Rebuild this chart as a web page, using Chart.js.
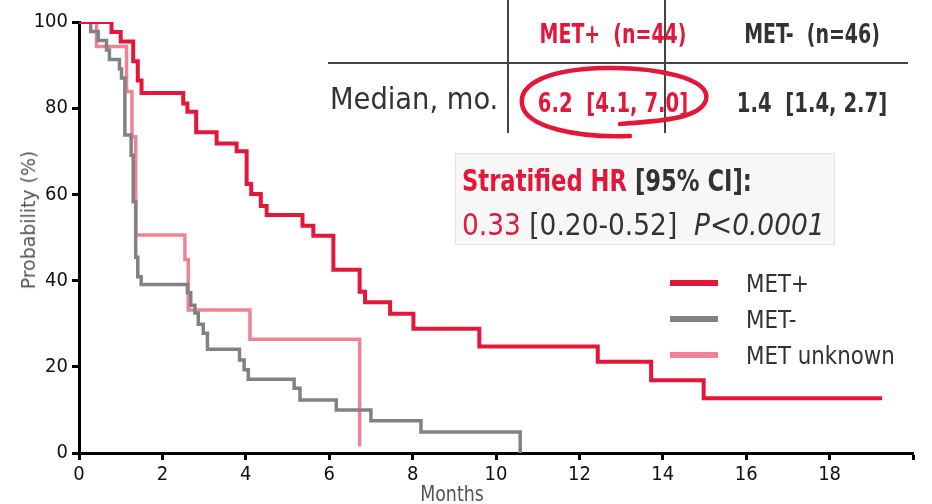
<!DOCTYPE html>
<html>
<head>
<meta charset="utf-8">
<script src="https://cdn.jsdelivr.net/npm/chart.js@4/dist/chart.umd.min.js"></script>
<style>
  html, body { margin: 0; padding: 0; background: #fff; }
  #wrap { position: relative; width: 932px; height: 504px; overflow: hidden; }
  #c { position: absolute; left: 0; top: 0; }
  .t { position: absolute; white-space: pre; line-height: 1; font-family: "Liberation Sans Narrow", "DejaVu Sans Condensed", "Roboto Condensed", "DejaVu Sans", sans-serif; }
  .ln { position: absolute; background: #444; }
</style>
</head>
<body>
<div id="wrap">
  <canvas id="c" width="932" height="504"></canvas>
</div>
<script>
// ---- data ----
const metPosMonths = [0, 0.78, 1.0, 1.3, 1.41, 1.5, 2.5, 2.6, 2.81, 3.3, 3.78, 4.02, 4.13, 4.36, 4.5, 5.36, 5.62, 6.1, 6.73, 6.86, 7.46, 8.02, 9.6, 12.44, 13.72, 14.98, 19.26];
const metPosProb   = [100, 97.7, 95.5, 90.9, 86.4, 83.5, 81.1, 79.2, 74.4, 71.8, 70.0, 62.4, 60.1, 57.3, 55.2, 52.7, 50.4, 42.5, 37.4, 35.0, 32.3, 28.8, 24.7, 21.2, 16.9, 12.7, 12.7];

const metNegMonths = [0, 0.28, 0.46, 0.66, 0.73, 0.97, 1.02, 1.1, 1.25, 1.3, 1.36, 1.41, 1.49, 2.6, 2.68, 2.78, 2.86, 2.98, 3.08, 3.85, 3.96, 4.06, 5.16, 5.3, 6.17, 7.0, 8.2, 10.58];
const metNegProb   = [100, 97.8, 95.7, 93.5, 91.3, 89.1, 87.0, 73.8, 69.1, 58.3, 45.4, 40.9, 39.1, 37.2, 34.3, 32.5, 29.9, 27.8, 24.1, 21.6, 19.3, 17.1, 15.0, 12.3, 10.0, 7.5, 4.9, 0];

const metUnkMonths = [0, 0.42, 1.14, 1.27, 1.36, 2.54, 2.62, 4.1, 6.73];
const metUnkProb   = [100, 94.3, 83.9, 73.4, 50.6, 44.9, 33.2, 26.4, 1.5];

const seriesNames = ["MET+", "MET-", "MET unknown"];
const xTicks = [0, 2, 4, 6, 8, 10, 12, 14, 16, 18];
const yTicks = [0, 20, 40, 60, 80, 100];

const tableHeaders = ["MET+  (n=44)", "MET-  (n=46)"];
const tableRowLabel = "Median, mo.";
const tableValues = ["6.2  [4.1, 7.0]", "1.4  [1.4, 2.7]"];

// ---- styling ----
const RED = "#E4173B", GRAY = "#828282", PINK = "#EF8393", DARK = "#333333";
const colors = [RED, GRAY, PINK];
const widths = [4, 3.5, 3.5];
const FONT = '"Liberation Sans Narrow", "DejaVu Sans Condensed", "Roboto Condensed", "DejaVu Sans", sans-serif';

const toPts = (xs, ys) => xs.map((x, i) => ({ x: x, y: ys[i] }));
const allData = [toPts(metPosMonths, metPosProb), toPts(metNegMonths, metNegProb), toPts(metUnkMonths, metUnkProb)];

new Chart(document.getElementById("c"), {
  type: "line",
  data: {
    datasets: seriesNames.map((n, i) => ({
      label: n,
      data: allData[i],
      borderColor: colors[i],
      borderWidth: widths[i],
      stepped: "before",
      pointRadius: 0,
      fill: false,
      borderCapStyle: "butt",
      borderJoinStyle: "miter"
    }))
  },
  options: {
    responsive: false,
    animation: false,
    events: [],
    layout: { padding: { top: 22, right: 19, left: 0, bottom: 0 } },
    plugins: { legend: { display: false }, tooltip: { enabled: false } },
    scales: {
      x: {
        type: "linear", min: 0, max: 20,
        afterBuildTicks: s => { s.ticks = xTicks.concat([20]).map(v => ({ value: v })); },
        ticks: { callback: v => (xTicks.includes(v) ? String(v) : ""), color: "#111", font: { family: FONT, size: 20 }, padding: 3, maxRotation: 0 },
        grid: { display: true, drawOnChartArea: false, drawTicks: true, tickLength: 7, tickWidth: 3, tickColor: "#000" },
        border: { display: true, color: "#000", width: 3 },
        afterFit: s => { s.height = 51; }
      },
      y: {
        min: 0, max: 100,
        afterBuildTicks: s => { s.ticks = yTicks.map(v => ({ value: v })); },
        ticks: { color: "#111", font: { family: FONT, size: 20 }, padding: 4 },
        grid: { display: true, drawOnChartArea: false, drawTicks: true, tickLength: 7, tickWidth: 3, tickColor: "#000" },
        border: { display: true, color: "#000", width: 3 },
        afterFit: s => { s.width = 79; }
      }
    }
  }
});

// ---- overlays (real text) ----
const wrap = document.getElementById("wrap");
function addText(txt, x, y, opts) {
  const d = document.createElement("div");
  d.className = "t";
  d.style.left = x + "px"; d.style.top = y + "px";
  d.style.fontSize = opts.size + "px";
  d.style.color = opts.color || DARK;
  if (opts.weight) d.style.fontWeight = opts.weight;
  const sx = opts.sx || 1;
  if (opts.rotate) {
    d.style.transform = "translate(-50%, -50%) rotate(-90deg) scaleX(" + sx + ")";
  } else if (opts.align === "left") {
    d.style.transformOrigin = "0 50%";
    d.style.transform = "translate(0, -50%) scaleX(" + sx + ")";
  } else {
    d.style.transform = "translate(-50%, -50%) scaleX(" + sx + ")";
  }
  if (opts.html) d.innerHTML = txt; else d.textContent = txt;
  wrap.appendChild(d);
  return d;
}
function addLine(x, y, w, h, c) {
  const d = document.createElement("div");
  d.className = "ln";
  d.style.left = x + "px"; d.style.top = y + "px"; d.style.width = w + "px"; d.style.height = h + "px";
  if (c) d.style.background = c;
  wrap.appendChild(d);
}

// axis titles
addText("Probability (%)", 28, 220, { size: 20, color: "#555", rotate: true, sx: 1.05 });
addText("Months", 452, 494, { size: 22, color: "#555", sx: 0.88 });

// table
addLine(507, 0, 2, 133);
addLine(664, 0, 2, 133);
addLine(328, 62, 580, 2);
addText(tableHeaders[0], 613, 33, { size: 27, color: RED, weight: 700, sx: 0.78 });
addText(tableHeaders[1], 812, 33, { size: 27, color: DARK, weight: 700, sx: 0.78 });
addText(tableRowLabel, 330, 98, { size: 31, color: DARK, align: "left", sx: 0.98 });
addText(tableValues[0], 613, 103, { size: 26, color: RED, weight: 700, sx: 0.84 });
addText(tableValues[1], 812, 103, { size: 26, color: DARK, weight: 700, sx: 0.84 });

// hand-drawn ellipse
const svgNS = "http://www.w3.org/2000/svg";
const svg = document.createElementNS(svgNS, "svg");
svg.setAttribute("width", "932"); svg.setAttribute("height", "504");
svg.style.position = "absolute"; svg.style.left = "0"; svg.style.top = "0";
const p = document.createElementNS(svgNS, "path");
p.setAttribute("d", "M 620 124 C 660 121, 700 119, 706 100 C 712 78, 655 67, 605 68 C 548 69, 519 84, 522 104 C 525 128, 580 138, 630 136");
p.setAttribute("fill", "none"); p.setAttribute("stroke", RED); p.setAttribute("stroke-width", "4.5"); p.setAttribute("stroke-linecap", "round");
svg.appendChild(p);
wrap.appendChild(svg);

// HR box
const box = document.createElement("div");
box.style.cssText = "position:absolute;left:455px;top:153px;width:380px;height:92px;background:#F7F7F7;border:1px solid #E3E3E3;box-sizing:border-box;";
wrap.appendChild(box);
addText('<span style="color:' + RED + '">Stratified HR</span> [95% CI]:', 462, 181, { size: 30, color: DARK, weight: 700, align: "left", html: true, sx: 0.84 });
addText('<span style="color:' + RED + '">0.33</span> [0.20-0.52]  <i>P&lt;0.0001</i>', 462, 225, { size: 30, color: DARK, align: "left", html: true, sx: 0.98 });

// legend
seriesNames.forEach((n, i) => {
  const y = 283 + i * 36;
  addLine(670, y - 3, 48, 6, colors[i]);
  addText(n, 746, y, { size: 25, color: DARK, align: "left", sx: 0.95 });
});
</script>
</body>
</html>
